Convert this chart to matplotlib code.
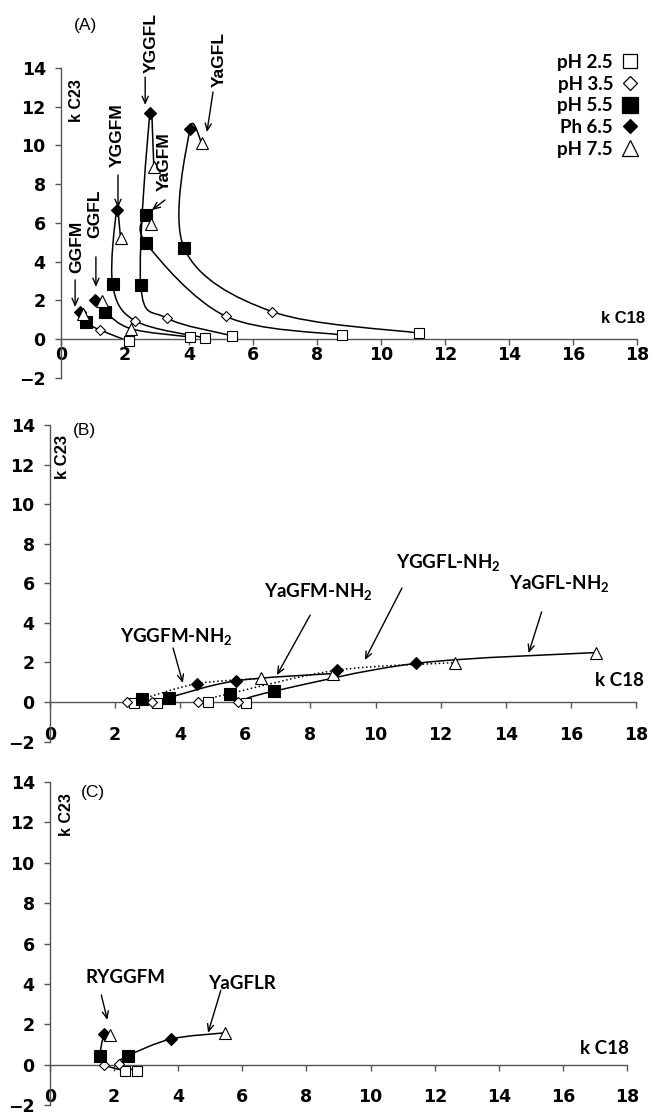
import matplotlib
matplotlib.use('Agg')
import matplotlib.pyplot as plt
from matplotlib.path import Path
from matplotlib.patches import PathPatch
from matplotlib.lines import Line2D

plt.rcParams['font.family'] = ['Liberation Sans', 'DejaVu Sans']
plt.rcParams['font.weight'] = 'bold'
plt.rcParams['mathtext.fontset'] = 'custom'
plt.rcParams['mathtext.rm'] = 'Lato:bold'
plt.rcParams['mathtext.it'] = 'Lato:bold'
plt.rcParams['mathtext.bf'] = 'Lato:bold'

# pH levels (legend) -- points along each curve go pH 2.5 -> 7.5
ph_levels = ['2.5', '3.5', '5.5', '6.5', '7.5']
ph_labels = ['pH 2.5', 'pH 3.5', 'pH 5.5', 'Ph 6.5', 'pH 7.5']

# panel (A): k C18 / k C23 for each peptide, marker as drawn in the figure
a_peptides = ['GGFM', 'GGFL', 'YGGFM', 'YGGFL', 'YaGFM', 'YaGFL']
a_k18 = [[2.12, 1.22, 0.78, 0.60, 0.68],
         [4.03, 2.20, 1.37, 1.06, 1.28],
         [4.50, 2.32, 1.61, 1.74, 1.86],
         [5.33, 3.30, 2.49, 2.78, 2.90],
         [8.77, 5.15, 2.66, 2.66, 2.80],
         [11.20, 6.60, 3.85, 4.03, 4.40]]
a_k23 = [[-0.12, 0.46, 0.86, 1.40, 1.30],
         [0.10, 0.52, 1.40, 2.01, 1.98],
         [0.05, 0.93, 2.83, 6.66, 5.22],
         [0.17, 1.08, 2.79, 11.69, 8.90],
         [0.20, 1.17, 4.94, 6.40, 5.95],
         [0.30, 1.41, 4.68, 10.85, 10.10]]
a_ph = [['2.5', '3.5', '5.5', '6.5', '7.5'],
        ['2.5', '7.5', '5.5', '6.5', '7.5'],
        ['2.5', '3.5', '5.5', '6.5', '7.5'],
        ['2.5', '3.5', '5.5', '6.5', '7.5'],
        ['2.5', '3.5', '5.5', '5.5', '7.5'],
        ['2.5', '3.5', '5.5', '6.5', '7.5']]

# panel (B): amidated peptides
b_peptides = ['YGGFM-NH$_2$', 'YaGFM-NH$_2$', 'YGGFL-NH$_2$', 'YaGFL-NH$_2$']
b_k18 = [[2.58, 2.35, 2.84, 4.53, 6.47],
         [3.30, 3.12, 3.64, 5.71, 8.68],
         [4.84, 4.56, 5.53, 8.83, 12.45],
         [6.01, 5.78, 6.89, 11.23, 16.77]]
b_k23 = [[-0.05, 0.0, 0.17, 0.93, 1.19],
         [-0.05, 0.0, 0.22, 1.07, 1.44],
         [0.0, 0.0, 0.43, 1.61, 1.99],
         [-0.07, 0.0, 0.55, 1.95, 2.50]]

# panel (C): arginine peptides
c_peptides = ['RYGGFM', 'YaGFLR']
c_k18 = [[2.34, 1.69, 1.56, 1.69, 1.86],
         [2.70, 2.14, 2.43, 3.77, 5.46]]
c_k23 = [[-0.31, 0.0, 0.44, 1.50, 1.47],
         [-0.31, 0.03, 0.44, 1.27, 1.58]]

marker_style = {
    '2.5': dict(marker='s', mfc='white', ms=7.5),
    '3.5': dict(marker='D', mfc='white', ms=5.2),
    '5.5': dict(marker='s', mfc='black', ms=8.5),
    '6.5': dict(marker='D', mfc='black', ms=5.8),
    '7.5': dict(marker='^', mfc='white', ms=8.5),
}
axis_col = '#555555'


def smooth_path(xs, ys):
    # excel-like smoothed line (catmull-rom as cubic beziers)
    pts = list(zip(xs, ys))
    n = len(pts)
    verts = [pts[0]]
    codes = [Path.MOVETO]
    for i in range(n - 1):
        p0 = pts[i - 1] if i > 0 else pts[i]
        p1 = pts[i]
        p2 = pts[i + 1]
        p3 = pts[i + 2] if i + 2 < n else pts[i + 1]
        c1 = (p1[0] + (p2[0] - p0[0]) / 6, p1[1] + (p2[1] - p0[1]) / 6)
        c2 = (p2[0] - (p3[0] - p1[0]) / 6, p2[1] - (p3[1] - p1[1]) / 6)
        verts += [c1, c2, p2]
        codes += [Path.CURVE4] * 3
    return Path(verts, codes)


def draw_curve(ax, xs, ys, phs, ls='-'):
    ax.add_patch(PathPatch(smooth_path(xs, ys), fill=False, ec='black',
                           lw=1.1, ls=ls, zorder=2, clip_on=False))
    for x, y, p in zip(xs, ys, phs):
        ax.plot([x], [y], linestyle='none', mec='black', mew=0.8, zorder=3,
                clip_on=False, **marker_style[p])


def style_axes(ax, xpad):
    ax.set_xlim(0, 18)
    ax.set_ylim(-2, 14)
    ax.set_xticks(range(0, 19, 2))
    ax.set_yticks(range(-2, 15, 2))
    ax.spines['top'].set_visible(False)
    ax.spines['right'].set_visible(False)
    ax.spines['left'].set_position(('data', 0))
    ax.spines['bottom'].set_position(('data', 0))
    for s in ['left', 'bottom']:
        ax.spines[s].set_color(axis_col)
        ax.spines[s].set_linewidth(1.0)
    ax.tick_params(direction='out', length=4, width=1.0, color=axis_col,
                   labelsize=12.5, labelfontfamily='DejaVu Sans')
    ax.tick_params(axis='x', pad=xpad)
    ax.tick_params(axis='y', pad=7)
    ax.patch.set_visible(False)


def arrow(ax, tail, tip):
    ax.annotate('', xy=tip, xytext=tail, annotation_clip=False,
                arrowprops=dict(arrowstyle='->,head_length=0.5,head_width=0.22',
                                color='black', lw=1.0, shrinkA=0, shrinkB=0))


fig = plt.figure(figsize=(6.52, 11.14), dpi=100)
axA = fig.add_axes([0.0936, 0.6610, 0.8834, 0.2780])
axB = fig.add_axes([0.0767, 0.3343, 0.8988, 0.2842])
axC = fig.add_axes([0.0767, 0.0080, 0.8850, 0.2900])

# ---- (A)
style_axes(axA, 1)
for xs, ys, phs in zip(a_k18, a_k23, a_ph):
    draw_curve(axA, xs, ys, phs)

a_text_pos = [(0.50, 4.75), (1.06, 6.46), (1.75, 10.54), (2.81, 15.29), (3.22, 9.14), (4.94, 14.46)]
a_arrows = [((0.44, 3.05), (0.44, 1.65)), ((1.09, 4.24), (1.09, 2.69)),
            ((1.78, 8.47), (1.78, 6.77)), ((2.63, 13.53), (2.63, 12.09)),
            ((3.25, 7.18), (2.84, 6.66)), ((4.75, 12.76), (4.56, 10.69))]
for name, pos, (tail, tip) in zip(a_peptides, a_text_pos, a_arrows):
    axA.text(pos[0], pos[1], name, rotation=90, ha='center', va='center',
             fontsize=12.5, clip_on=False)
    arrow(axA, tail, tip)

axA.text(0.78, 16.2, '(A)', fontsize=12.5, fontweight='normal', ha='center',
         va='center', clip_on=False)
axA.text(0.47, 12.3, 'k C23', rotation=90, fontsize=11.5, ha='center', va='center')
axA.text(18.25, 1.03, 'k C18', fontsize=12, ha='right', va='center')

handles = [Line2D([], [], linestyle='none', mec='black', mew=0.9,
                  marker=marker_style[p]['marker'], mfc=marker_style[p]['mfc'],
                  ms=marker_style[p]['ms'] * 1.3) for p in ph_levels]
axA.legend(handles, ph_labels, loc='upper right', bbox_to_anchor=(0.995, 0.96),
           bbox_transform=fig.transFigure, frameon=False, markerfirst=False,
           handlelength=1.0, handletextpad=0.4, labelspacing=0.25, borderpad=0,
           prop={'family': 'Lato', 'weight': 'bold', 'size': 13.5})

# ---- (B)
style_axes(axB, 13)
b_ls = [':', '-', ':', '-']
for xs, ys, ls in zip(b_k18, b_k23, b_ls):
    draw_curve(axB, xs, ys, ph_levels, ls=ls)

b_text_pos = [(3.87, 3.33), (8.23, 5.56), (12.25, 7.07), (15.63, 6.01)]
b_arrows = [((3.78, 2.73), (4.08, 0.96)), ((7.99, 4.39), (6.97, 1.36)),
            ((10.81, 5.76), (9.67, 2.12)), ((15.10, 4.55), (14.70, 2.47))]
for name, pos, (tail, tip) in zip(b_peptides, b_text_pos, b_arrows):
    axB.text(pos[0], pos[1], name, ha='center', va='center', fontsize=13.5,
             family='Lato')
    arrow(axB, tail, tip)

axB.text(1.07, 13.7, '(B)', fontsize=12.5, fontweight='normal', ha='center',
         va='center', clip_on=False)
axB.text(0.37, 12.4, 'k C23', rotation=90, fontsize=12, ha='center', va='center')
axB.text(18.25, 1.1, 'k C18', fontsize=13.5, family='Lato', ha='right',
         va='center', clip_on=False)

# ---- (C)
style_axes(axC, 13)
for xs, ys in zip(c_k18, c_k23):
    draw_curve(axC, xs, ys, ph_levels)

c_text_pos = [(2.37, 4.33), (5.99, 4.03)]
c_arrows = [((1.60, 3.45), (1.79, 2.22)), ((5.33, 3.69), (4.93, 1.58))]
for name, pos, (tail, tip) in zip(c_peptides, c_text_pos, c_arrows):
    axC.text(pos[0], pos[1], name, ha='center', va='center', fontsize=13.5,
             family='Lato')
    arrow(axC, tail, tip)

axC.text(1.34, 13.5, '(C)', fontsize=12.5, fontweight='normal', ha='center',
         va='center', clip_on=False)
axC.text(0.53, 12.4, 'k C23', rotation=90, fontsize=11.5, ha='center', va='center')
axC.text(18.06, 0.8, 'k C18', fontsize=13.5, family='Lato', ha='right',
         va='center', clip_on=False)

fig.savefig('out.png', dpi=100)
